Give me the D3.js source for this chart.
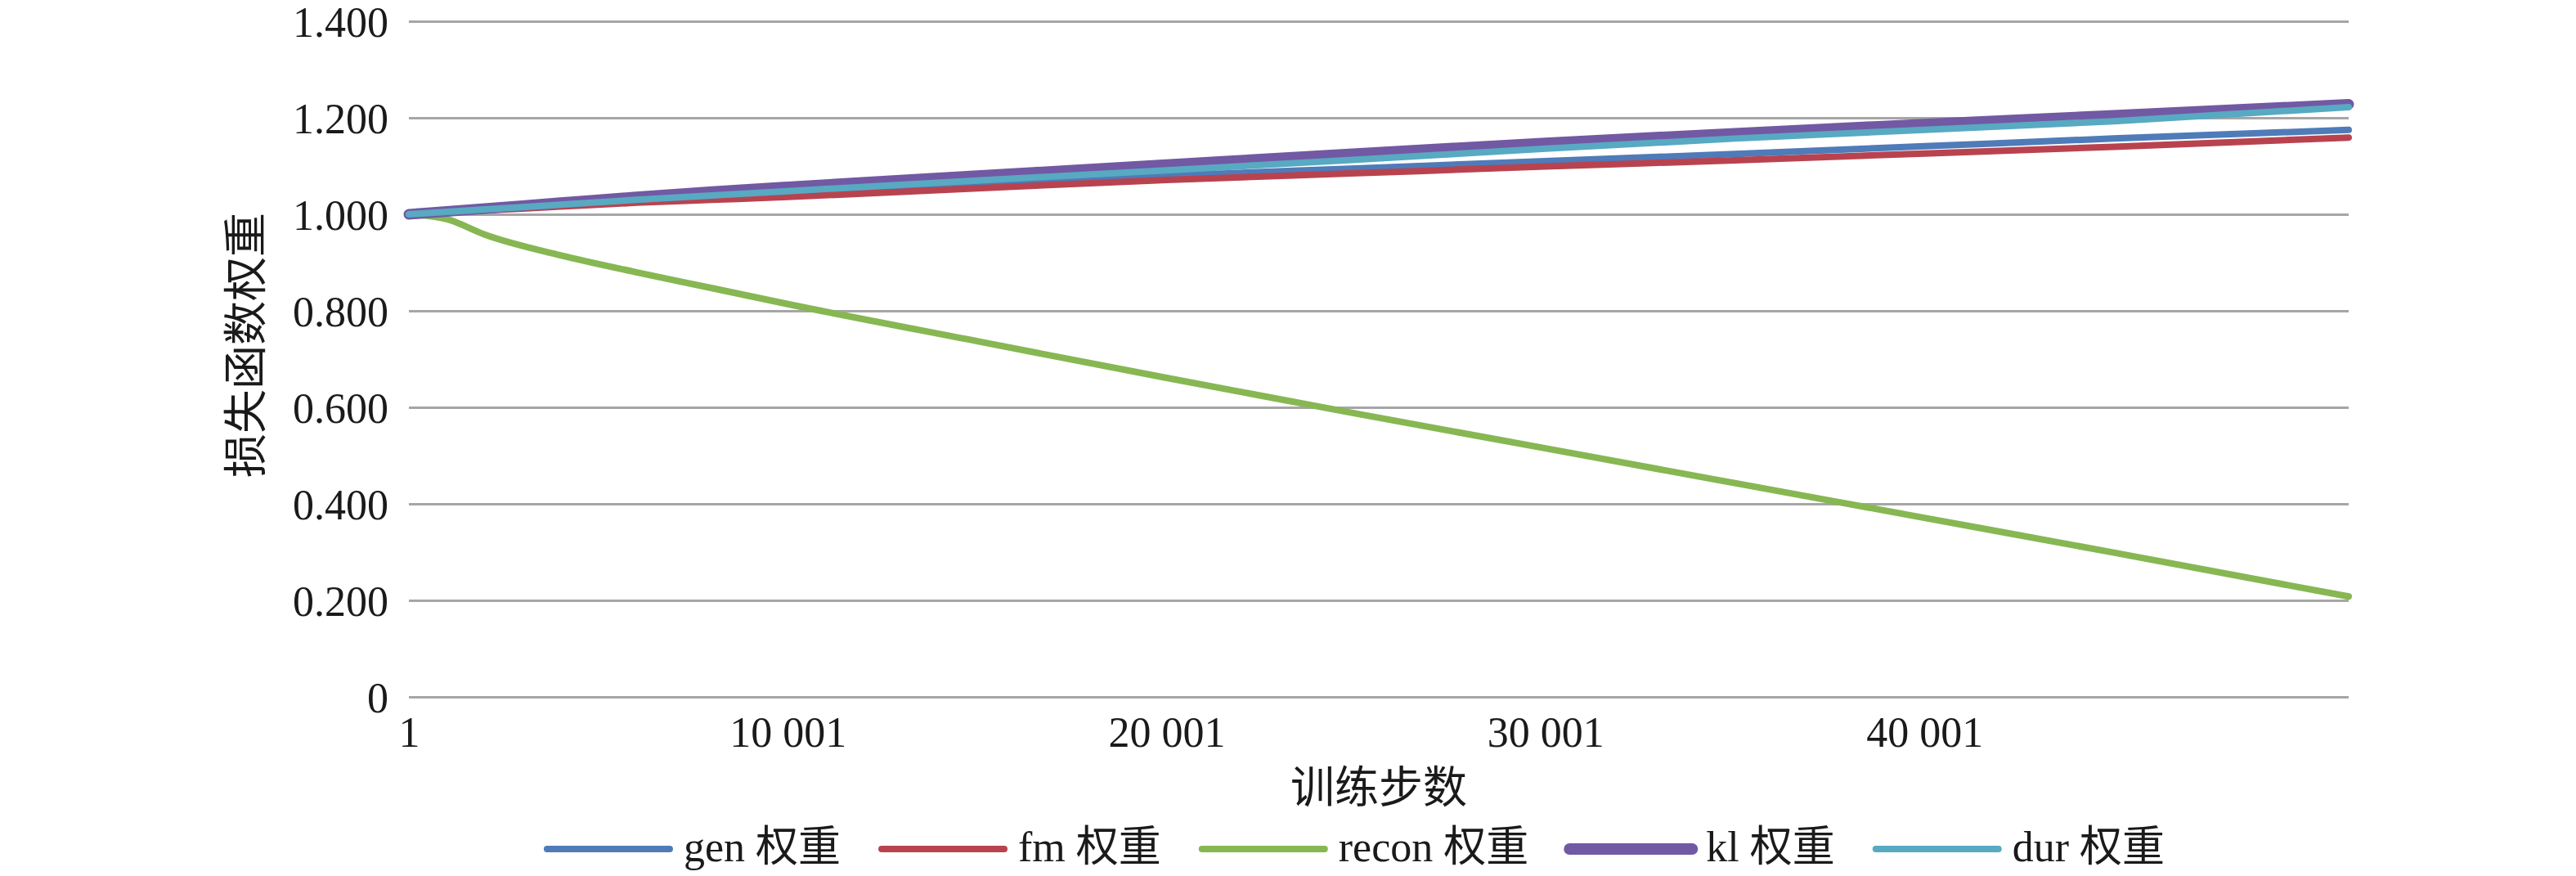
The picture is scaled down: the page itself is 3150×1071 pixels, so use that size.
<!DOCTYPE html>
<html>
<head>
<meta charset="utf-8">
<script src="https://cdn.jsdelivr.net/npm/d3@7"></script>
<style>
  html, body { margin: 0; padding: 0; background: #fff; }
  text { font-family: "Liberation Serif", "Noto Sans CJK SC", serif; fill: #1a1a1a; }
</style>
</head>
<body>
<script>
var steps = [1, 1001, 2001, 4001, 6001, 8001, 10001, 15001, 20001, 25001, 30001, 35001, 40001, 45001, 51200];

var genW   = [1.000, 1.005, 1.010, 1.019, 1.028, 1.036, 1.043, 1.062, 1.080, 1.095, 1.110, 1.125, 1.141, 1.157, 1.175];
var fmW    = [1.000, 1.004, 1.008, 1.016, 1.024, 1.030, 1.036, 1.054, 1.071, 1.085, 1.099, 1.112, 1.126, 1.140, 1.159];
var reconW = [1.000, 0.990, 0.958, 0.915, 0.880, 0.847, 0.814, 0.737, 0.661, 0.587, 0.515, 0.443, 0.371, 0.299, 0.208];
var klW    = [1.000, 1.006, 1.012, 1.024, 1.036, 1.047, 1.057, 1.080, 1.103, 1.126, 1.148, 1.168, 1.187, 1.205, 1.228];
var durW   = [1.000, 1.005, 1.010, 1.020, 1.030, 1.039, 1.048, 1.070, 1.091, 1.113, 1.136, 1.157, 1.175, 1.193, 1.222];

var seriesNames = ["gen 权重", "fm 权重", "recon 权重", "kl 权重", "dur 权重"];
var xTicks = [1, 10001, 20001, 30001, 40001];
var yTicks = [0, 0.2, 0.4, 0.6, 0.8, 1.0, 1.2, 1.4];

var W = 3150, H = 1071;
var margin = {top: 26, right: 278, bottom: 219, left: 500};
var plotW = W - margin.left - margin.right;
var plotH = H - margin.top - margin.bottom;

var colors = ["#4f7bb9", "#b8434f", "#87b752", "#7259a3", "#58a9c2"];
var widths = [8, 8, 8, 13, 8];
var values = [genW, fmW, reconW, klW, durW];

var svg = d3.select("body").append("svg")
    .attr("width", W)
    .attr("height", H)
    .attr("xmlns", "http://www.w3.org/2000/svg");

var g = svg.append("g")
    .attr("transform", "translate(" + margin.left + "," + margin.top + ")");

var x = d3.scaleLinear().domain([1, d3.max(steps)]).range([0, plotW]);
var y = d3.scaleLinear().domain([0, 1.4]).range([plotH, 0]);

var loc = d3.formatLocale({decimal: ".", thousands: " ", grouping: [3], currency: ["", ""]});
var fmtX = loc.format(",d");
var fmtY = function(d) { return d === 0 ? "0" : d3.format(".3f")(d); };

// y axis with gridlines
var yAxis = g.append("g")
    .call(d3.axisLeft(y).tickValues(yTicks).tickSize(-plotW).tickPadding(25).tickFormat(fmtY));
yAxis.select(".domain").remove();
yAxis.selectAll(".tick line").attr("stroke", "#a6a6a6").attr("stroke-width", 3);
yAxis.selectAll(".tick text")
    .attr("font-size", 52)
    .attr("dy", "0.36em")
    .style("font-family", "Liberation Serif, serif")
    .attr("fill", "#1a1a1a");

// x axis labels only
var xAxis = g.append("g")
    .attr("transform", "translate(0," + plotH + ")")
    .call(d3.axisBottom(x).tickValues(xTicks).tickSize(0).tickPadding(24).tickFormat(fmtX));
xAxis.select(".domain").remove();
xAxis.selectAll(".tick text")
    .attr("font-size", 52)
    .style("font-family", "Liberation Serif, serif")
    .attr("fill", "#1a1a1a");

// lines
var line = d3.line()
    .x(function(d) { return x(d[0]); })
    .y(function(d) { return y(d[1]); })
    .curve(d3.curveMonotoneX);

values.forEach(function(vals, i) {
  g.append("path")
      .datum(d3.zip(steps, vals))
      .attr("fill", "none")
      .attr("stroke", colors[i])
      .attr("stroke-width", widths[i])
      .attr("stroke-linecap", "round")
      .attr("stroke-linejoin", "round")
      .attr("d", line);
});

// axis titles
svg.append("text")
    .attr("x", margin.left + plotW / 2)
    .attr("y", 982)
    .attr("text-anchor", "middle")
    .attr("font-size", 54)
    .text("训练步数");

svg.append("text")
    .attr("transform", "translate(302,422) rotate(-90)")
    .attr("text-anchor", "middle")
    .attr("dominant-baseline", "central")
    .attr("font-size", 54)
    .text("损失函数权重");

// legend
var lineLen = 150, lineGap = 17, itemGap = 50;
var legend = svg.append("g");
var items = legend.selectAll("g").data(seriesNames).enter().append("g");
items.append("line")
    .attr("x1", 0).attr("x2", lineLen)
    .attr("y1", 0).attr("y2", 0)
    .attr("stroke", function(d, i) { return colors[i]; })
    .attr("stroke-width", function(d, i) { return i === 3 ? 14 : 8; })
    .attr("stroke-linecap", "round");
items.append("text")
    .attr("x", lineLen + lineGap)
    .attr("y", 15)
    .attr("font-size", 52)
    .text(function(d) { return d; });

var offs = [], cur = 0;
items.each(function() {
  offs.push(cur);
  var tw = d3.select(this).select("text").node().getComputedTextLength();
  cur += lineLen + lineGap + tw + itemGap;
});
var total = cur - itemGap;
var startX = 1658 - total / 2;
items.attr("transform", function(d, i) { return "translate(" + (startX + offs[i]) + ",1038)"; });
</script>
</body>
</html>
